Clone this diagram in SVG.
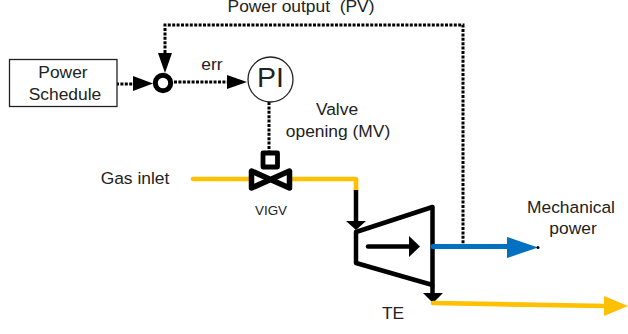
<svg xmlns="http://www.w3.org/2000/svg" width="628" height="334" viewBox="0 0 628 334">
<style>
text{font-family:"Liberation Sans",Arial,sans-serif;font-size:17.4px;fill:#222;text-anchor:middle}
.dot{fill:none;stroke:#000;stroke-width:3;stroke-dasharray:3 1.400}
.y{fill:none;stroke:#ffc000;stroke-width:4.7;stroke-linecap:round;stroke-linejoin:round}
.k{fill:none;stroke:#000;stroke-width:4.5;stroke-linejoin:round}
</style>
<rect width="628" height="334" fill="#fff"/>
<g id="connectors">
<path class="dot" d="M165 53V25H463V244"/>
<path class="dot" d="M116 84H134"/>
<path class="dot" d="M174 82H227"/>
<path class="dot" d="M269 102V151"/>
<polygon points="158,53 172,53 165,73"/>
<polygon points="133,76 133,91 153,83.500"/>
<polygon points="227,75 227,89 247,82"/>
<path class="y" d="M193 179H253"/>
<path class="y" d="M288 179H356V190"/>
<path class="k" d="M356 190V224"/>
<polygon points="346,221 366,221 356,230"/>
<path class="k" d="M432.500 285V295"/>
<polygon points="423,293 443,293 433,303"/>
<path class="y" d="M433 303L606 306"/>
<polygon fill="#ffc000" points="604,296 628,306 604,316"/>
</g>
<g id="schedule"><rect x="9.500" y="59.500" width="107.500" height="47" fill="#fff" stroke="#222" stroke-width="1.300"/><text x="63" y="78">Power</text><text x="65" y="100">Schedule</text></g>
<g id="sum"><circle cx="163" cy="83" r="7.700" fill="#fff" stroke="#000" stroke-width="5"/></g>
<g id="pi"><circle cx="270.500" cy="79.500" r="22.500" fill="#fff" stroke="#222" stroke-width="1.300"/><text x="270.500" y="87" style="font-size:28.500px">PI</text></g>
<g id="valve">
<rect x="263" y="153" width="14.500" height="14" fill="#fff" stroke="#000" stroke-width="4.800" stroke-linejoin="round"/>
<path d="M251.500 171V188L289.500 171V188Z" fill="#fff" stroke="#000" stroke-width="5.500" stroke-linejoin="round"/>
<text x="271" y="215" style="font-size:13.400px">VIGV</text>
</g>
<g id="turbine">
<path d="M356 232V263L432.500 285V207Z" fill="#fff" stroke="#000" stroke-width="4.500" stroke-linejoin="round"/>
<path d="M368 246.500H411" stroke="#000" stroke-width="4.500" stroke-linecap="round"/>
<polygon points="409,236 409,257 420,246.500"/>
<text x="393" y="319">TE</text>
</g>
<g id="output">
<path d="M433 246.500H510" fill="none" stroke="#0070c0" stroke-width="5" stroke-linecap="round"/>
<polygon fill="#0070c0" points="507,237 538,247.500 507,258"/>
<circle cx="538" cy="247.500" r="1.500"/>
</g>
<g id="labels">
<text x="301" y="11.500" xml:space="preserve">Power output  (PV)</text>
<text x="212" y="69.500">err</text>
<text x="337" y="115">Valve</text>
<text x="338" y="137">opening (MV)</text>
<text x="135" y="184">Gas inlet</text>
<text x="571" y="213">Mechanical</text>
<text x="573" y="234">power</text>
</g>
</svg>
